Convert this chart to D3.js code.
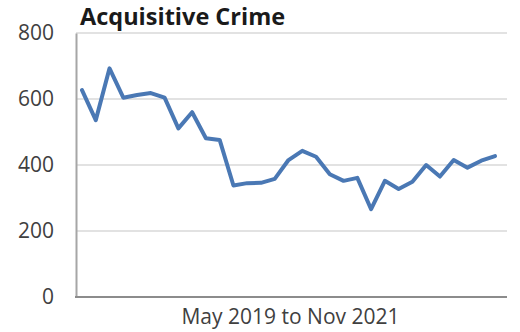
<!DOCTYPE html>
<html>
<head>
<meta charset="utf-8">
<script src="https://cdn.jsdelivr.net/npm/d3@7"></script>
<style>
  html, body { margin: 0; padding: 0; background: #fff; }
  svg { display: block; }
</style>
</head>
<body>
<svg id="chart" width="520" height="332"></svg>
<script>
// Monthly acquisitive crime counts, May 2019 – Nov 2021
const months = [
  "May 2019","Jun 2019","Jul 2019","Aug 2019","Sep 2019","Oct 2019","Nov 2019","Dec 2019",
  "Jan 2020","Feb 2020","Mar 2020","Apr 2020","May 2020","Jun 2020","Jul 2020","Aug 2020",
  "Sep 2020","Oct 2020","Nov 2020","Dec 2020","Jan 2021","Feb 2021","Mar 2021","Apr 2021",
  "May 2021","Jun 2021","Jul 2021","Aug 2021","Sep 2021","Oct 2021","Nov 2021"
];
const crimes = [
  627, 536, 693, 604, 612, 618, 604, 511,
  560, 481, 476, 338, 345, 346, 358, 415,
  443, 425, 372, 352, 361, 266, 352, 327,
  349, 400, 365, 415, 392, 413, 427
];
const yTicks = [0, 200, 400, 600, 800];
const titleText = "Acquisitive Crime";
const xLabelText = "May 2019 to Nov 2021";

const svg = d3.select("#chart");
const frame = { left: 76, right: 507, top: 33, bottom: 297 };

const x = d3.scalePoint().domain(months).range([82, 495]);
const y = d3.scaleLinear().domain([0, 800]).range([frame.bottom, frame.top]);

// horizontal gridlines
svg.append("g")
  .selectAll("line")
  .data(yTicks.filter(d => d > 0))
  .join("line")
  .attr("x1", frame.left).attr("x2", frame.right)
  .attr("y1", d => y(d)).attr("y2", d => y(d))
  .attr("stroke", "#d9d9d9").attr("stroke-width", 1.5);

// y axis
const yAxis = svg.append("g")
  .attr("transform", `translate(${frame.left},0)`)
  .call(d3.axisLeft(y).tickValues(yTicks).tickSize(0).tickPadding(22));
yAxis.select(".domain").attr("stroke", "#a6a6a6").attr("stroke-width", 2);
yAxis.selectAll("text")
  .attr("font-family", "'Open Sans', sans-serif")
  .attr("font-size", 21)
  .attr("fill", "#404040");

// x axis baseline
svg.append("line")
  .attr("x1", frame.left - 1).attr("x2", frame.right)
  .attr("y1", frame.bottom).attr("y2", frame.bottom)
  .attr("stroke", "#8c8c8c").attr("stroke-width", 2);

// series line
svg.append("path")
  .datum(crimes)
  .attr("fill", "none")
  .attr("stroke", "#4a78b4")
  .attr("stroke-width", 4)
  .attr("stroke-linejoin", "round")
  .attr("stroke-linecap", "round")
  .attr("d", d3.line().x((d, i) => x(months[i])).y(d => y(d)));

// title
svg.append("text")
  .attr("x", 80).attr("y", 25)
  .attr("font-family", "'Open Sans', sans-serif")
  .attr("font-weight", 700)
  .attr("font-size", 23.5)
  .attr("fill", "#1a1a1a")
  .text(titleText);

// category span label
svg.append("text")
  .attr("x", (frame.left + frame.right) / 2 - 1).attr("y", 324)
  .attr("text-anchor", "middle")
  .attr("font-family", "'Open Sans', sans-serif")
  .attr("font-size", 21)
  .attr("fill", "#404040")
  .text(xLabelText);
</script>
</body>
</html>
